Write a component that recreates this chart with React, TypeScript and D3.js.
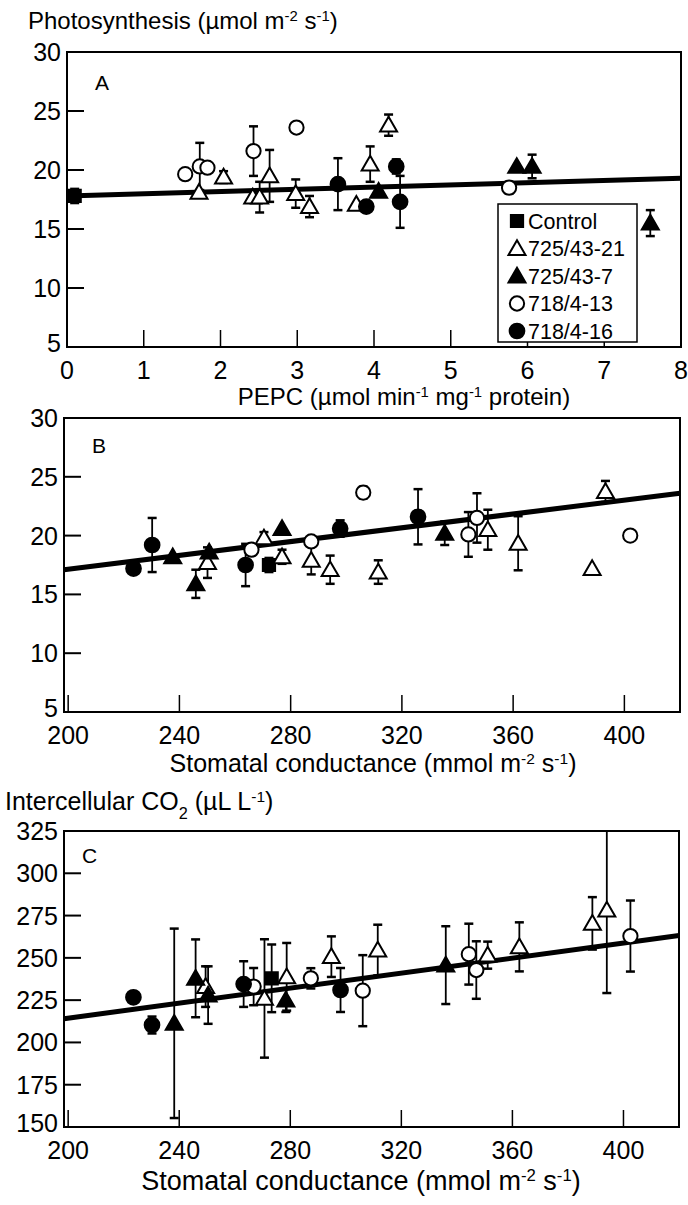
import React from 'react';
import * as d3 from 'd3';

const FONT = '"Liberation Sans", Arial, Helvetica, sans-serif';

type Pt = [number, number, number]; // x, y, error (±)

// Legend
const seriesKeys = ['control', 't21', 't7', 'c13', 'c16'];
const legendLabels = ['Control', '725/43-21', '725/43-7', '718/4-13', '718/4-16'];

// ---------- Panel A: photosynthesis vs PEPC ----------
const aControl: Pt[] = [[0.1, 17.8, 0.6]];
const aT21: Pt[] = [
  [1.72, 18.1, 0], [2.04, 19.4, 0.5], [2.42, 17.7, 0], [2.51, 17.7, 1.3], [2.64, 19.5, 2.2],
  [2.98, 18.0, 1.2], [3.16, 16.9, 0.9], [3.77, 17.1, 0], [3.95, 20.5, 1.5], [4.19, 23.8, 0.9],
];
const aT7: Pt[] = [[4.06, 18.2, 0], [5.86, 20.3, 0], [6.06, 20.3, 1.0], [7.6, 15.5, 1.1]];
const aC13: Pt[] = [[1.54, 19.65, 0], [1.73, 20.3, 2.0], [1.83, 20.2, 0], [2.43, 21.6, 2.1], [2.99, 23.6, 0.4], [5.76, 18.5, 0.5]];
const aC16: Pt[] = [[3.53, 18.8, 2.2], [3.9, 16.9, 0], [4.29, 20.3, 0.6], [4.34, 17.3, 2.2]];
const aLine: [number, number][] = [[0, 17.8], [8, 19.3]];
const aXTicks = [0, 1, 2, 3, 4, 5, 6, 7, 8];
const aYTicks = [5, 10, 15, 20, 25, 30];

// ---------- Panel B: photosynthesis vs stomatal conductance ----------
const bControl: Pt[] = [[272.2, 17.5, 0.6]];
const bT21: Pt[] = [
  [250.1, 17.7, 1.3], [270.4, 19.8, 0.5], [276.9, 18.2, 0.6], [287.4, 17.9, 1.2], [294.2, 17.1, 1.2],
  [311.5, 16.9, 1.0], [350.9, 20.5, 1.7], [361.8, 19.35, 2.3], [388.4, 17.2, 0], [393.2, 23.75, 0.9],
];
const bT7: Pt[] = [[237.6, 18.2, 0], [245.9, 15.9, 1.2], [250.7, 18.6, 0], [276.9, 20.6, 0], [335.4, 20.2, 1.0]];
const bC13: Pt[] = [[265.9, 18.8, 0], [287.4, 19.5, 0], [306.1, 23.66, 0.5], [343.9, 20.1, 1.9], [347, 21.5, 2.1], [402.1, 20.0, 0]];
const bC16: Pt[] = [[223.5, 17.2, 0], [230.2, 19.2, 2.3], [263.8, 17.5, 1.8], [297.8, 20.6, 0.7], [325.8, 21.6, 2.35]];
const bLine: [number, number][] = [[198.5, 17.1], [420, 23.6]];
const gXTicks = [200, 240, 280, 320, 360, 400];
const bYTicks = [5, 10, 15, 20, 25, 30];

// ---------- Panel C: intercellular CO2 vs stomatal conductance ----------
const cControl: Pt[] = [[273.3, 237.9, 20]];
const cT21: Pt[] = [
  [249.5, 233, 12], [270.7, 226, 35], [278.7, 238.8, 20], [294.8, 250.7, 12], [311.5, 254.6, 15],
  [351.1, 251.6, 8], [362.5, 256.5, 14.5], [388.8, 270.4, 15.5], [394, 278.2, 49],
];
const cT7: Pt[] = [[238.2, 211.3, 56], [245.9, 237.9, 23], [250.4, 228, 17], [278.4, 225, 7], [336, 245.7, 23]];
const cC13: Pt[] = [[266.8, 233, 11], [287.4, 237.9, 6], [306.1, 230.6, 21], [344.3, 252.2, 18], [347, 242.8, 17], [402.5, 262.9, 21]];
const cC16: Pt[] = [[223.5, 226.7, 0], [230.2, 210.3, 5], [263.2, 234.5, 13.5], [298.1, 231, 13]];
const cLine: [number, number][] = [[198.5, 214.0], [420, 263.2]];
const cYTicks = [150, 175, 200, 225, 250, 275, 300, 325];

const symbolFor: Record<string, any> = {
  control: d3.symbol(d3.symbolSquare, 150),
  t21: d3.symbol(d3.symbolTriangle, 125),
  t7: d3.symbol(d3.symbolTriangle, 125),
  c13: d3.symbol(d3.symbolCircle, 160),
  c16: d3.symbol(d3.symbolCircle, 170),
};
const filled: Record<string, boolean> = { control: true, t21: false, t7: true, c13: false, c16: true };

function Marker({ kind, x, y }: { kind: string; x: number; y: number }) {
  const dy = kind === 't21' || kind === 't7' ? 1.5 : 0;
  return (
    <path
      d={symbolFor[kind]()}
      transform={`translate(${x},${y + dy})`}
      fill={filled[kind] ? '#000' : '#fff'}
      stroke="#000"
      strokeWidth={2}
    />
  );
}

interface PanelProps {
  left: number; right: number; top: number; bottom: number;
  xDomain: [number, number]; yDomain: [number, number];
  xTicks: number[]; yTicks: number[];
  series: Record<string, Pt[]>;
  line: [number, number][];
  letter: string; letterX: number; letterY: number;
  fontSize: number;
}

function Panel(p: PanelProps) {
  const x = d3.scaleLinear().domain(p.xDomain).range([p.left, p.right]);
  const y = d3.scaleLinear().domain(p.yDomain).range([p.bottom, p.top]);
  const tickLen = 17;
  const lineGen = d3.line<[number, number]>().x((d) => x(d[0])).y((d) => y(d[1]));
  const [yMin, yMax] = p.yDomain;
  return (
    <g>
      {/* error bars */}
      {seriesKeys.map((k) =>
        (p.series[k] || []).filter((d) => d[2] > 0).map((d, i) => {
          const hiV = Math.min(d[1] + d[2], yMax);
          const loV = Math.max(d[1] - d[2], yMin);
          const cx = x(d[0]);
          return (
            <g key={k + 'e' + i} stroke="#000">
              <line x1={cx} x2={cx} y1={y(hiV)} y2={y(loV)} strokeWidth={1.8} />
              {hiV < yMax && <line x1={cx - 4.5} x2={cx + 4.5} y1={y(hiV)} y2={y(hiV)} strokeWidth={2.5} />}
              {loV > yMin && <line x1={cx - 4.5} x2={cx + 4.5} y1={y(loV)} y2={y(loV)} strokeWidth={2.5} />}
            </g>
          );
        })
      )}
      {/* regression line */}
      <path d={lineGen(p.line) || ''} stroke="#000" strokeWidth={5} fill="none" />
      {/* markers */}
      {seriesKeys.map((k) =>
        (p.series[k] || []).map((d, i) => <Marker key={k + 'm' + i} kind={k} x={x(d[0])} y={y(d[1])} />)
      )}
      {/* frame */}
      <rect x={p.left} y={p.top} width={p.right - p.left} height={p.bottom - p.top} fill="none" stroke="#000" strokeWidth={2} />
      {/* y ticks */}
      {p.yTicks.map((t) => (
        <g key={'yt' + t}>
          {t !== yMin && t !== yMax && (
            <line x1={p.left} x2={p.left + tickLen} y1={y(t)} y2={y(t)} stroke="#000" strokeWidth={2} />
          )}
          <text x={p.left - 6} y={y(t) - (t === yMin ? 4 : 0)} dy="0.36em" textAnchor="end" fontSize={p.fontSize} fontFamily={FONT}>
            {t}
          </text>
        </g>
      ))}
      {/* x ticks */}
      {p.xTicks.map((t) => (
        <g key={'xt' + t}>
          {x(t) > p.left + 3 && x(t) < p.right - 3 && (
            <line x1={x(t)} x2={x(t)} y1={p.bottom} y2={p.bottom - tickLen} stroke="#000" strokeWidth={1.5} />
          )}
          <text x={x(t)} y={p.bottom + 32} textAnchor="middle" fontSize={p.fontSize} fontFamily={FONT}>
            {t}
          </text>
        </g>
      ))}
      <text x={p.letterX} y={p.letterY} fontSize={21} fontFamily={FONT}>{p.letter}</text>
    </g>
  );
}

function Sup({ children }: { children: React.ReactNode }) {
  return <tspan baselineShift="super" fontSize="0.62em">{children}</tspan>;
}

export default function App() {
  const legendX = 498, legendY = 204, legendW = 139, legendH = 138;
  return (
    <svg width={688} height={1205} style={{ position: 'absolute', left: 0, top: 0, background: '#fff' }}>
      <rect width={688} height={1205} fill="#fff" />
      <text x={28} y={29} fontSize={24} fontFamily={FONT}>
        Photosynthesis (µmol m<Sup>-2</Sup> s<Sup>-1</Sup>)
      </text>
      <Panel
        left={67} right={681} top={52} bottom={347}
        xDomain={[0, 8]} yDomain={[5, 30]}
        xTicks={aXTicks} yTicks={aYTicks}
        series={{ control: aControl, t21: aT21, t7: aT7, c13: aC13, c16: aC16 }}
        line={aLine} letter="A" letterX={95} letterY={90} fontSize={25}
      />
      <text x={404} y={405} textAnchor="middle" fontSize={24} fontFamily={FONT}>
        PEPC (µmol min<Sup>-1</Sup> mg<Sup>-1</Sup> protein)
      </text>
      {/* legend */}
      <rect x={legendX} y={legendY} width={legendW} height={legendH} fill="#fff" stroke="#000" strokeWidth={1.5} />
      {seriesKeys.map((k, i) => (
        <g key={'lg' + k}>
          <Marker kind={k} x={legendX + 19} y={legendY + 17 + i * 27.5} />
          <text x={legendX + 30} y={legendY + 17 + i * 27.5} dy="0.36em" fontSize={21.5} fontFamily={FONT}>
            {legendLabels[i]}
          </text>
        </g>
      ))}
      <Panel
        left={64} right={680} top={418} bottom={712}
        xDomain={[198.5, 420]} yDomain={[5, 30]}
        xTicks={gXTicks} yTicks={bYTicks}
        series={{ control: bControl, t21: bT21, t7: bT7, c13: bC13, c16: bC16 }}
        line={bLine} letter="B" letterX={92} letterY={453} fontSize={25}
      />
      <text x={373} y={772} textAnchor="middle" fontSize={25} fontFamily={FONT}>
        Stomatal conductance (mmol m<Sup>-2</Sup> s<Sup>-1</Sup>)
      </text>
      <text x={5} y={810} fontSize={25} fontFamily={FONT}>
        Intercellular CO<tspan baselineShift="sub" fontSize="0.65em">2</tspan> (µL L<Sup>-1</Sup>)
      </text>
      <Panel
        left={64} right={679} top={831} bottom={1127}
        xDomain={[198.5, 420]} yDomain={[150, 325]}
        xTicks={gXTicks} yTicks={cYTicks}
        series={{ control: cControl, t21: cT21, t7: cT7, c13: cC13, c16: cC16 }}
        line={cLine} letter="C" letterX={82} letterY={863} fontSize={25}
      />
      <text x={361} y={1190} textAnchor="middle" fontSize={27} fontFamily={FONT}>
        Stomatal conductance (mmol m<Sup>-2</Sup> s<Sup>-1</Sup>)
      </text>
    </svg>
  );
}
